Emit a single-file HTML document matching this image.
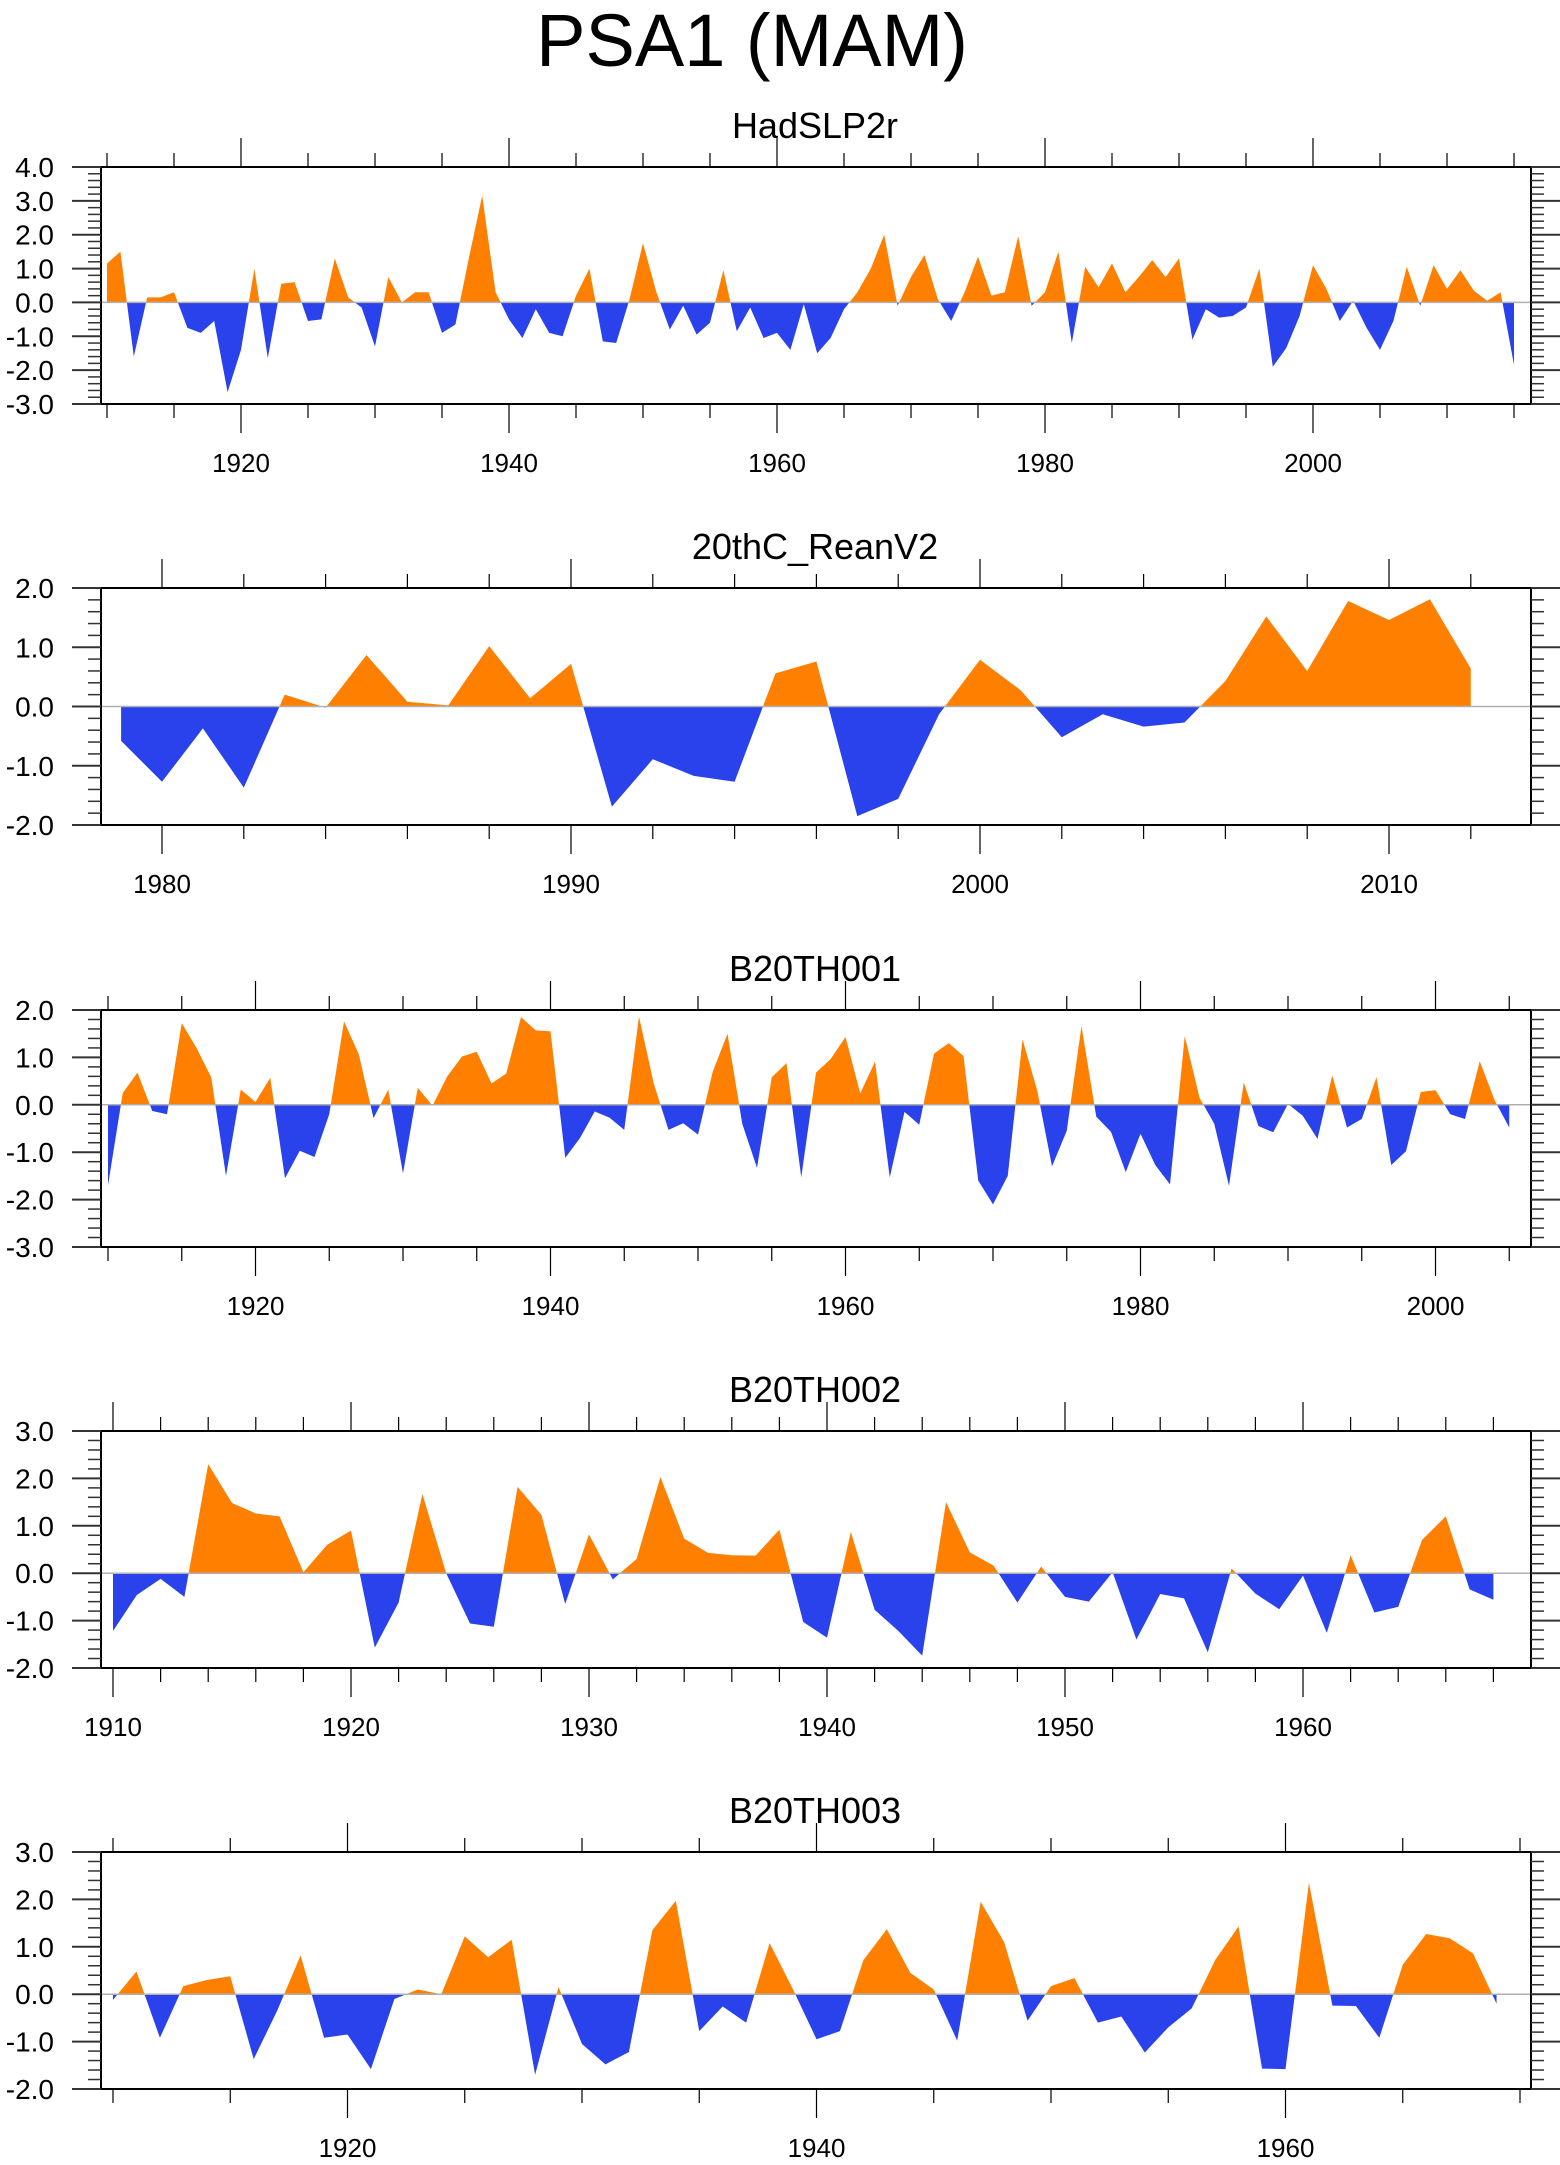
<!DOCTYPE html>
<html><head><meta charset="utf-8">
<style>
html,body{margin:0;padding:0;background:#fff;}
svg{display:block;font-family:"Liberation Sans",Arial,sans-serif;}
</style></head>
<body>
<svg id="chart" width="1560" height="2165" viewBox="0 0 1560 2165" xmlns="http://www.w3.org/2000/svg">
<text x="752" y="66" font-size="74" text-anchor="middle">PSA1 (MAM)</text>
</svg>
<script>
// ---------- data ----------
const hadYears = [1910, 2015];
const hadValues = [1.15,1.5,-1.6,0.15,0.15,0.3,-0.75,-0.9,-0.55,-2.65,-1.4,1.0,-1.65,0.55,0.6,-0.55,-0.5,1.3,0.15,-0.15,
-1.3,0.75,0.0,0.3,0.3,-0.9,-0.65,1.3,3.15,0.3,-0.5,-1.05,-0.2,-0.9,-1.0,0.2,1.0,-1.15,-1.2,0.1,
1.75,0.3,-0.8,-0.1,-0.95,-0.6,0.95,-0.85,-0.15,-1.05,-0.9,-1.4,-0.05,-1.5,-1.05,-0.2,0.3,1.0,2.0,-0.1,
0.75,1.4,0.1,-0.55,0.3,1.35,0.2,0.3,1.95,-0.1,0.3,1.5,-1.2,1.05,0.45,1.15,0.3,0.75,1.25,0.75,
1.3,-1.1,-0.2,-0.45,-0.4,-0.15,1.0,-1.9,-1.35,-0.4,1.1,0.4,-0.55,0.05,-0.75,-1.4,-0.55,1.05,-0.1,1.1,
0.4,0.95,0.35,0.05,0.3,-1.85];
const reanYears = [1979, 2012];
const reanValues = [-0.58,-1.27,-0.37,-1.37,0.2,-0.02,0.87,0.08,0.02,1.02,0.14,0.72,-1.69,-0.89,-1.17,-1.27,0.56,0.76,-1.85,-1.56,
-0.13,0.79,0.27,-0.52,-0.13,-0.34,-0.27,0.43,1.52,0.6,1.78,1.46,1.81,0.64];
const b001Years = [1910, 2005];
const b001Values = [-1.7,0.25,0.68,-0.13,-0.2,1.72,1.2,0.58,-1.5,0.32,0.06,0.57,-1.55,-0.97,-1.1,-0.2,1.76,1.07,-0.28,0.32,
-1.45,0.36,-0.02,0.6,1.02,1.12,0.45,0.66,1.85,1.57,1.55,-1.12,-0.7,-0.14,-0.27,-0.53,1.86,0.45,-0.53,-0.39,
-0.63,0.7,1.5,-0.4,-1.33,0.58,0.88,-1.53,0.68,0.97,1.43,0.24,0.91,-1.53,-0.15,-0.42,1.08,1.3,1.03,-1.6,
-2.1,-1.5,1.38,0.3,-1.3,-0.55,1.66,-0.25,-0.57,-1.42,-0.61,-1.27,-1.68,1.45,0.15,-0.4,-1.71,0.47,-0.45,-0.58,
0.02,-0.23,-0.72,0.62,-0.48,-0.3,0.58,-1.27,-0.98,0.27,0.31,-0.2,-0.3,0.92,0.1,-0.48];
const b002Years = [1910, 1968];
const b002Values = [-1.22,-0.46,-0.12,-0.5,2.3,1.48,1.26,1.2,0.02,0.6,0.9,-1.57,-0.62,1.67,0.0,-1.06,-1.13,1.82,1.23,-0.65,
0.82,-0.13,0.3,2.03,0.73,0.43,0.38,0.37,0.92,-1.03,-1.36,0.87,-0.77,-1.22,-1.74,1.5,0.44,0.16,-0.62,0.14,
-0.5,-0.6,0.02,-1.4,-0.44,-0.53,-1.67,0.1,-0.43,-0.76,-0.05,-1.26,0.38,-0.83,-0.71,0.7,1.2,-0.34,-0.56];
const b003Years = [1910, 1969];
const b003Values = [-0.12,0.48,-0.92,0.17,0.3,0.38,-1.37,-0.35,0.82,-0.92,-0.85,-1.58,-0.1,0.1,0.0,1.22,0.78,1.15,-1.7,0.15,
-1.05,-1.48,-1.22,1.35,1.97,-0.78,-0.26,-0.6,1.08,0.1,-0.95,-0.78,0.72,1.37,0.45,0.1,-0.98,1.95,1.1,-0.56,
0.17,0.34,-0.6,-0.47,-1.23,-0.7,-0.3,0.72,1.43,-1.57,-1.58,2.35,-0.24,-0.25,-0.92,0.62,1.27,1.18,0.86,-0.2];
const panelTitles = ["HadSLP2r","20thC_ReanV2","B20TH001","B20TH002","B20TH003"];

// ---------- layout ----------
const NS = "http://www.w3.org/2000/svg";
const svg = document.getElementById('chart');
function mk(tag, attrs, parent){ const e=document.createElementNS(NS,tag); for(const k in attrs) e.setAttribute(k,attrs[k]); (parent||svg).appendChild(e); return e; }

const panels = [
 {years:hadYears, vals:hadValues, top:167, xref:[1910,107], pxy:13.4, ymin:-3, ymax:4, major:20, minor:5, xmin:1905, xmax:2020},
 {years:reanYears, vals:reanValues, top:588, xref:[1980,162], pxy:40.9, ymin:-2, ymax:2, major:10, minor:2, xmin:1970, xmax:2020},
 {years:b001Years, vals:b001Values, top:1010, xref:[1910,108], pxy:14.75, ymin:-3, ymax:2, major:20, minor:5, xmin:1905, xmax:2010},
 {years:b002Years, vals:b002Values, top:1431, xref:[1910,113], pxy:23.8, ymin:-2, ymax:3, major:10, minor:2, xmin:1900, xmax:1970},
 {years:b003Years, vals:b003Values, top:1852, xref:[1910,113], pxy:23.45, ymin:-2, ymax:3, major:20, minor:5, xmin:1900, xmax:1975}
];
const L=101, R=1531, H=237;

panels.forEach((p,i)=>{
  const g = mk('g',{});
  
  
  const top=p.top, bot=top+H;
  const X = yr => p.xref[1] + (yr-p.xref[0])*p.pxy;
  const Y = v => top + (p.ymax - v)/(p.ymax-p.ymin)*H;
  const t = mk('text',{x:815,y:top-29,'font-size':36,'text-anchor':'middle'},g);
  t.textContent = panelTitles[i];
  
  
  const cid='c'+i;
  const defs = mk('defs',{},g);
  const cu = mk('clipPath',{id:cid+'u'},defs); mk('rect',{x:L,y:top,width:R-L,height:Y(0)-top},cu);
  const cd = mk('clipPath',{id:cid+'d'},defs); mk('rect',{x:L,y:Y(0),width:R-L,height:bot-Y(0)},cd);
  const y0=p.years[0];
  let d='M'+X(y0)+','+Y(0);
  p.vals.forEach((v,k)=>{ d+=' L'+X(y0+k).toFixed(2)+','+Y(v).toFixed(2); });
  d+=' L'+X(y0+p.vals.length-1)+','+Y(0)+' Z';
  const pu = mk('path',{d:d,fill:'#ff8000','clip-path':'url(#'+cid+'u)'},g);
  
  
  const pd = mk('path',{d:d,fill:'#2942ec','clip-path':'url(#'+cid+'d)'},g);
  
  
  const zl = mk('line',{x1:L,x2:R,y1:Y(0),y2:Y(0),stroke:'#b0b0b0','stroke-width':1.5},g);
  
  
  const fr = mk('rect',{x:L,y:top,width:R-L,height:H,fill:'none',stroke:'#000','stroke-width':2},g);
  
  
  const nMinor = Math.round((p.ymax-p.ymin)/0.2);
  for(let k=0;k<=nMinor;k++){
    const v = p.ymin + k*0.2; const y=Y(v);
    const isMaj = Math.abs(v-Math.round(v))<1e-6;
    const len = isMaj?29:13;
    mk('line',{x1:L-len,x2:L,y1:y,y2:y,stroke:'#333','stroke-width':isMaj?2:1.5},g);
    mk('line',{x1:R,x2:R+len,y1:y,y2:y,stroke:'#333','stroke-width':isMaj?2:1.5},g);
    if(isMaj){
      const lb = mk('text',{x:54,y:y+10,'font-size':28,'text-anchor':'end'},g);
      lb.textContent = Math.round(v).toFixed(1);
      
      
    }
  }
  for(let yr=p.xmin; yr<=p.xmax; yr+=p.minor){
    const x=X(yr); if(x<L-0.5||x>R+0.5) continue;
    const isMaj = yr%p.major===0;
    const len = isMaj?29:14;
    mk('line',{x1:x,x2:x,y1:top-len,y2:top,stroke:'#000','stroke-width':1.2},g);
    mk('line',{x1:x,x2:x,y1:bot,y2:bot+len,stroke:'#000','stroke-width':1.2},g);
    if(isMaj){
      const lb = mk('text',{x:x,y:bot+68,'font-size':26,'text-anchor':'middle'},g);
      lb.textContent = yr;
      
      
    }
  }
});
</script>
</body></html>
